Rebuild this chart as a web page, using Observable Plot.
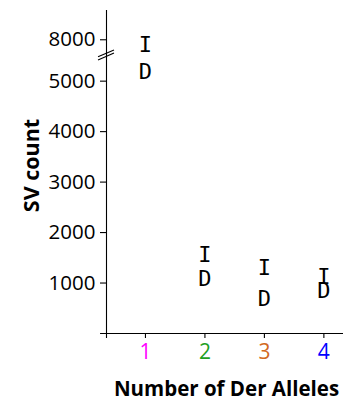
<!DOCTYPE html>
<html>
<head>
<meta charset="utf-8">
<script src="https://cdn.jsdelivr.net/npm/d3@7"></script>
<script src="https://cdn.jsdelivr.net/npm/@observablehq/plot@0.6"></script>
<style>
  html, body { margin: 0; padding: 0; background: #fff; }
  #chart svg { display: block; }
</style>
</head>
<body>
<div id="chart"></div>
<script>
// Number of derived alleles and their label colours
const alleles = [1, 2, 3, 4];
const alleleColors = ["#FF00FF", "#1FA01F", "#D2691E", "#0000FF"];

// SV counts: insertions (I) and deletions (D)
const insertions = [7900, 1560, 1295, 1115];
const deletions = [5190, 1085, 680, 850];

// Y tick labels (8000 sits above the axis break)
const yTickLabels = [1000, 2000, 3000, 4000, 5000, 8000];

// Broken y axis: values above the break are shifted down
const breakAt = 5510;       // where the break marker sits (axis units)
const breakShift = 2180;    // amount removed above the break
const breakY = v => (v > 6000 ? v - breakShift : v);

const points = [];
alleles.forEach((a, i) => {
  points.push({allele: a, type: "I", count: insertions[i]});
  points.push({allele: a, type: "D", count: deletions[i]});
});

const yTicks = yTickLabels.map(breakY);
const xMin = 0.345, xMax = 4.33;
const sans = "'Open Sans', 'Noto Sans', sans-serif";

// Double-slash break marker drawn across the y axis
const breakMarker = (index, scales) => {
  const g = d3.create("svg:g").attr("stroke", "black").attr("stroke-width", 1.1);
  const cx = scales.x(xMin), cy = scales.y(breakAt);
  for (const off of [-1.6, 1.6]) {
    g.append("line")
      .attr("x1", cx - 8).attr("y1", cy + off + 3.4)
      .attr("x2", cx + 8).attr("y2", cy + off - 3.4);
  }
  return g.node();
};

const chart = Plot.plot({
  width: 345,
  height: 402,
  marginLeft: 106,
  marginRight: 2,
  marginTop: 10,
  marginBottom: 69,
  style: {fontFamily: sans, background: "white", color: "black"},
  x: {domain: [xMin, xMax], axis: null},
  y: {domain: [0, 6400], axis: null},
  marks: [
    // axis lines
    Plot.ruleX([xMin], {y1: -100, y2: 6400, stroke: "black", strokeWidth: 1.1}),
    Plot.ruleY([0], {x1: xMin - 0.1, x2: xMax, stroke: "black", strokeWidth: 1.1}),
    // y ticks and labels
    Plot.axisY({
      ticks: yTicks,
      tickFormat: t => String(yTickLabels[yTicks.indexOf(t)]),
      tickSize: 6,
      tickPadding: 5,
      fontSize: 20.5,
      label: null,
      strokeWidth: 1.1
    }),
    // x ticks
    Plot.axisX({
      ticks: alleles,
      tickSize: 5,
      tickFormat: () => "",
      label: null,
      strokeWidth: 1.1
    }),
    // coloured x tick labels
    Plot.text(alleles, {
      x: d => d,
      frameAnchor: "bottom",
      lineAnchor: "middle",
      dy: 19,
      text: d => String(d),
      fill: (d, i) => alleleColors[i],
      fontSize: 21
    }),
    breakMarker,
    // I / D letters as point markers
    Plot.text(points, {
      x: "allele",
      y: d => breakY(d.count),
      text: "type",
      fontFamily: "'DejaVu Sans Mono', monospace",
      fontSize: 22,
      fill: "black"
    }),
    // axis titles
    Plot.text(["SV count"], {
      frameAnchor: "left",
      textAnchor: "middle",
      lineAnchor: "middle",
      dx: -74,
      dy: -6.5,
      rotate: -90,
      fontSize: 21.5,
      fontWeight: "bold"
    }),
    Plot.text(["Number of Der Alleles"], {
      frameAnchor: "bottom",
      lineAnchor: "middle",
      dx: 1.5,
      dy: 55.5,
      fontSize: 20.5,
      fontWeight: "bold"
    })
  ]
});

document.getElementById("chart").append(chart);
</script>
</body>
</html>
